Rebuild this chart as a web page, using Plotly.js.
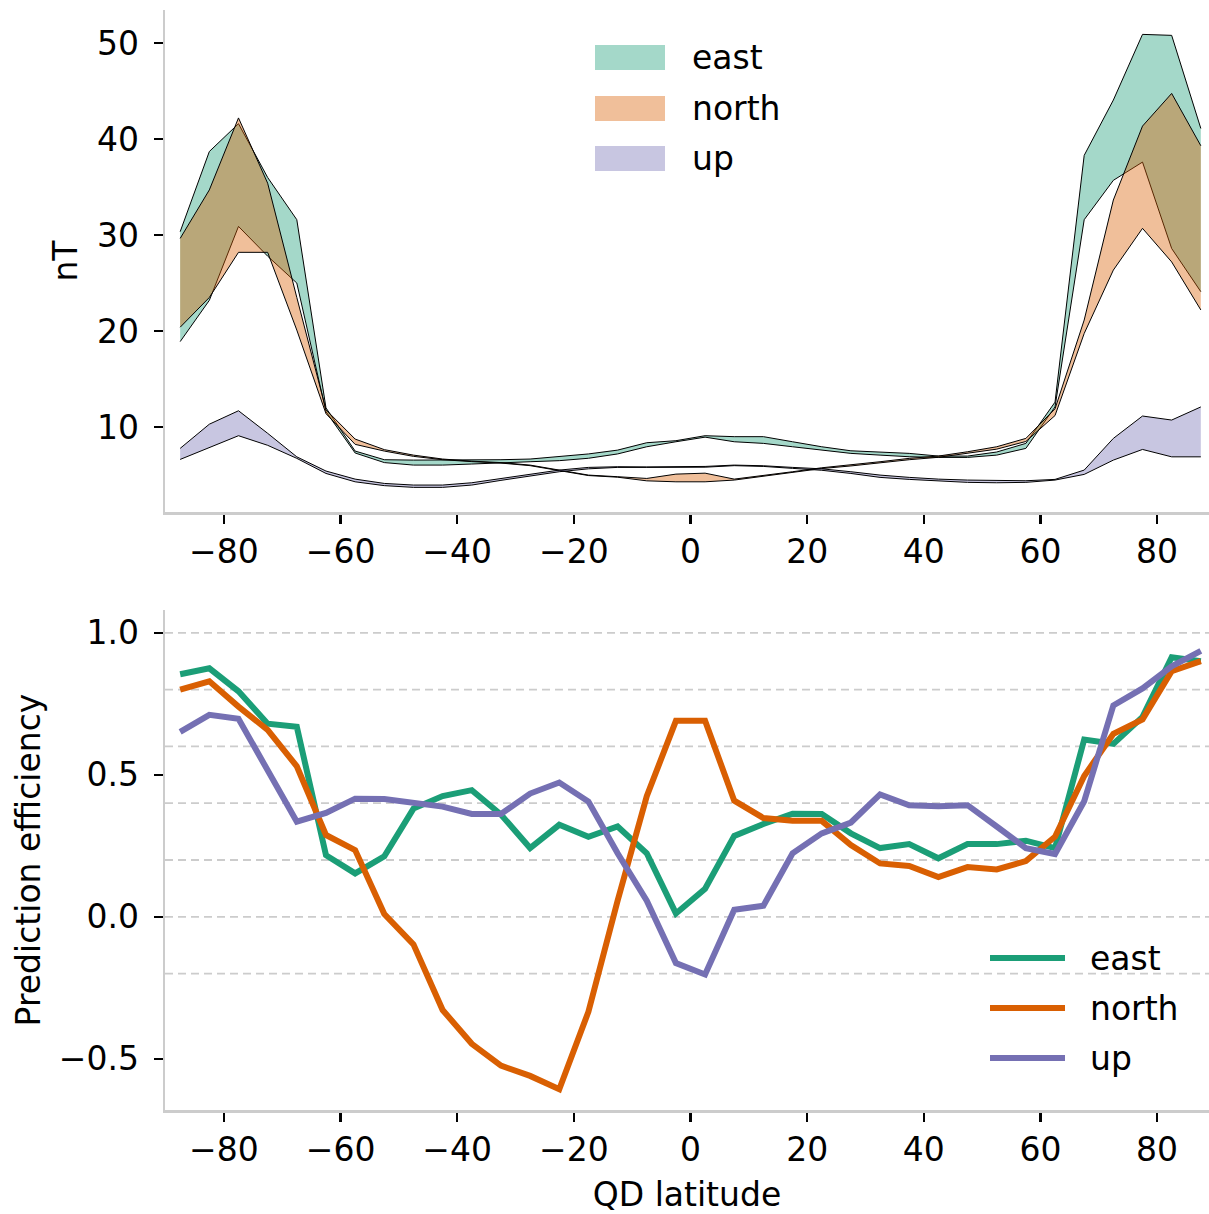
<!DOCTYPE html>
<html>
<head>
<meta charset="utf-8">
<script src="https://cdn.plot.ly/plotly-3.0.1.min.js"></script>
<style>html,body{margin:0;padding:0;background:#fff;}#chart{width:1209px;height:1214px;}</style>
</head>
<body>
<div id="chart"></div>
<script>
// QD latitude bin centres
const lat = [-87.5,-82.5,-77.5,-72.5,-67.5,-62.5,-57.5,-52.5,-47.5,-42.5,-37.5,-32.5,-27.5,-22.5,-17.5,-12.5,-7.5,-2.5,2.5,7.5,12.5,17.5,22.5,27.5,32.5,37.5,42.5,47.5,52.5,57.5,62.5,67.5,72.5,77.5,82.5,87.5];

// Top panel: band edges (nT)
const eastA = [30.35,38.7,41.6,36.0,31.6,12.0,7.5,6.6,6.56,6.56,6.56,6.6,6.67,6.9,7.2,7.6,8.37,8.58,9.1,9.0,9.0,8.47,7.95,7.53,7.43,7.26,6.98,6.98,7.4,8.3,12.6,38.3,44.06,50.9,50.8,41.1];
const eastB = [18.9,23.2,30.9,27.8,25.0,11.6,7.3,6.3,6.04,6.04,6.15,6.3,6.39,6.5,6.75,7.2,7.95,8.47,8.95,8.47,8.3,7.95,7.6,7.26,7.08,6.91,6.84,6.84,7.08,7.78,12.1,31.6,35.7,37.6,28.6,24.1];
const northA = [29.65,34.7,42.2,35.4,23.5,11.8,8.75,7.65,7.08,6.67,6.45,6.3,6.04,5.52,5.0,4.83,4.65,5.1,5.2,4.58,5.0,5.35,5.76,6.04,6.39,6.74,6.98,7.43,7.95,8.82,11.9,21.15,33.65,41.35,44.75,39.3];
const northB = [20.4,23.5,28.2,28.2,20.1,11.4,8.2,7.5,6.95,6.6,6.4,6.25,5.98,5.45,4.95,4.78,4.4,4.3,4.3,4.48,4.9,5.28,5.68,5.95,6.3,6.6,6.85,7.26,7.7,8.5,11.2,19.75,26.35,30.7,27.2,22.2];
const upA = [7.78,10.3,11.7,9.35,6.9,5.42,4.58,4.13,3.96,3.96,4.2,4.65,5.07,5.52,5.8,5.87,5.85,5.85,5.9,6.04,5.97,5.8,5.65,5.35,5.0,4.76,4.58,4.48,4.41,4.41,4.55,5.52,8.82,11.15,10.73,12.1];
const upB = [6.63,7.88,9.1,8.1,6.74,5.17,4.3,3.9,3.72,3.72,3.96,4.45,4.9,5.35,5.65,5.8,5.8,5.8,5.82,5.98,5.9,5.7,5.5,5.17,4.76,4.55,4.375,4.24,4.2,4.24,4.48,5.07,6.56,7.67,6.9,6.9];

// Bottom panel: prediction efficiency
const effEast = [0.854,0.875,0.794,0.680,0.669,0.217,0.153,0.213,0.381,0.425,0.446,0.360,0.242,0.324,0.282,0.318,0.224,0.012,0.099,0.285,0.327,0.363,0.362,0.294,0.242,0.256,0.206,0.256,0.256,0.268,0.242,0.624,0.609,0.704,0.914,0.900];
const effNorth = [0.80,0.829,0.74,0.658,0.53,0.288,0.235,0.01,-0.097,-0.328,-0.447,-0.524,-0.56,-0.607,-0.334,0.057,0.425,0.69,0.69,0.409,0.348,0.338,0.338,0.253,0.188,0.179,0.14,0.175,0.167,0.196,0.282,0.496,0.644,0.695,0.865,0.90];
const effUp = [0.651,0.711,0.697,0.52,0.335,0.366,0.416,0.415,0.399,0.388,0.362,0.362,0.434,0.473,0.406,0.224,0.057,-0.163,-0.203,0.025,0.039,0.224,0.294,0.332,0.431,0.393,0.389,0.393,0.318,0.242,0.221,0.407,0.744,0.804,0.882,0.936];

const components = ['east','north','up'];
const guideLevels = [-0.2,0.0,0.2,0.4,0.6,0.8,1.0];
const xTicks = [-80,-60,-40,-20,0,20,40,60,80];
const nTTicks = [10,20,30,40,50];
const effTicks = [-0.5,0.0,0.5,1.0];

const lineColors = ['#1b9e77','#d95f02','#7570b3'];
const fillColors = ['rgba(27,158,119,0.4)','rgba(217,95,2,0.4)','rgba(117,112,179,0.4)'];
const FONT = 'DejaVu Sans, sans-serif';
const FS = 33;
const LW = 6;

const bands = [[eastA,eastB],[northA,northB],[upA,upB]];
const traces = [];
bands.forEach((b,i)=>{
  traces.push({x:lat,y:b[0],type:'scatter',mode:'lines',line:{color:'#000',width:1},
    name:components[i]+' band edge',showlegend:false,hoverinfo:'skip',xaxis:'x',yaxis:'y'});
  traces.push({x:lat,y:b[1],type:'scatter',mode:'lines',line:{color:'#000',width:1},
    name:components[i],fill:'tonexty',fillcolor:fillColors[i],showlegend:false,hoverinfo:'skip',xaxis:'x',yaxis:'y'});
});
[effEast,effNorth,effUp].forEach((v,i)=>{
  traces.push({x:lat,y:v,type:'scatter',mode:'lines',name:components[i],
    line:{color:lineColors[i],width:LW},xaxis:'x2',yaxis:'y2',showlegend:false});
});

// paper-coordinate helpers (plot area: x 165..1209 px, y 10..1110 px)
const px = v => (v-165)/1044;
const py = v => (1110-v)/1100;

const shapes = [];
const annotations = [];
// legend of the band panel
const legTopPx = [45,96,146];
components.forEach((c,i)=>{
  const y0 = legTopPx[i];
  shapes.push({type:'rect',xref:'paper',yref:'paper',
    x0:px(595),x1:px(665),y0:py(y0+25),y1:py(y0),
    fillcolor:fillColors[i],line:{width:0}});
  annotations.push({xref:'paper',yref:'paper',x:px(690),y:py(y0+12.5),
    xanchor:'left',yanchor:'middle',text:c,showarrow:false,font:{family:FONT,size:FS,color:'#000'}});
});
// legend of the efficiency panel
const leg2Px = [958,1008,1058];
components.forEach((c,i)=>{
  shapes.push({type:'line',xref:'paper',yref:'paper',x0:px(990),x1:px(1065),y0:py(leg2Px[i]),y1:py(leg2Px[i]),
    line:{color:lineColors[i],width:LW}});
  annotations.push({xref:'paper',yref:'paper',x:px(1088),y:py(leg2Px[i]),
    xanchor:'left',yanchor:'middle',text:c,showarrow:false,font:{family:FONT,size:FS,color:'#000'}});
});
guideLevels.forEach(v=>{
  shapes.push({type:'line',xref:'paper',yref:'y2',x0:0,x1:1,y0:v,y1:v,layer:'below',
    line:{color:'#cccccc',width:1.8,dash:'8px,5px'}});
});

const axBase = {
  showgrid:false, zeroline:false, showline:true, linecolor:'#cccccc', linewidth:2.5,
  ticks:'outside', ticklen:9, tickwidth:2.2, tickcolor:'#000',
  tickfont:{family:FONT,size:FS,color:'#000'}
};

const layout = {
  width:1209, height:1214,
  margin:{l:165,r:0,t:10,b:104},
  paper_bgcolor:'#fff', plot_bgcolor:'#fff',
  font:{family:FONT,size:FS,color:'#000'},
  showlegend:false,
  xaxis:Object.assign({},axBase,{domain:[0,1],range:[-90.1,88.9],anchor:'y',tickvals:xTicks}),
  yaxis:Object.assign({},axBase,{domain:[0.5436,1],range:[1.15,53.44],anchor:'x',tickvals:nTTicks,
    ticklabelstandoff:8,
    title:{text:'nT',font:{family:FONT,size:FS,color:'#000'},standoff:10}}),
  xaxis2:Object.assign({},axBase,{domain:[0,1],range:[-90.1,88.9],anchor:'y2',tickvals:xTicks,
    title:{text:'QD latitude',font:{family:FONT,size:FS,color:'#000'},standoff:15}}),
  yaxis2:Object.assign({},axBase,{domain:[0,0.4545],range:[-0.68,1.08],anchor:'x2',tickvals:effTicks,tickformat:'.1f',
    ticklabelstandoff:8,
    title:{text:'Prediction efficiency',font:{family:FONT,size:FS,color:'#000'},standoff:8}}),
  shapes:shapes,
  annotations:annotations
};

Plotly.newPlot('chart',traces,layout,{staticPlot:true,displayModeBar:false});
</script>
</body>
</html>
